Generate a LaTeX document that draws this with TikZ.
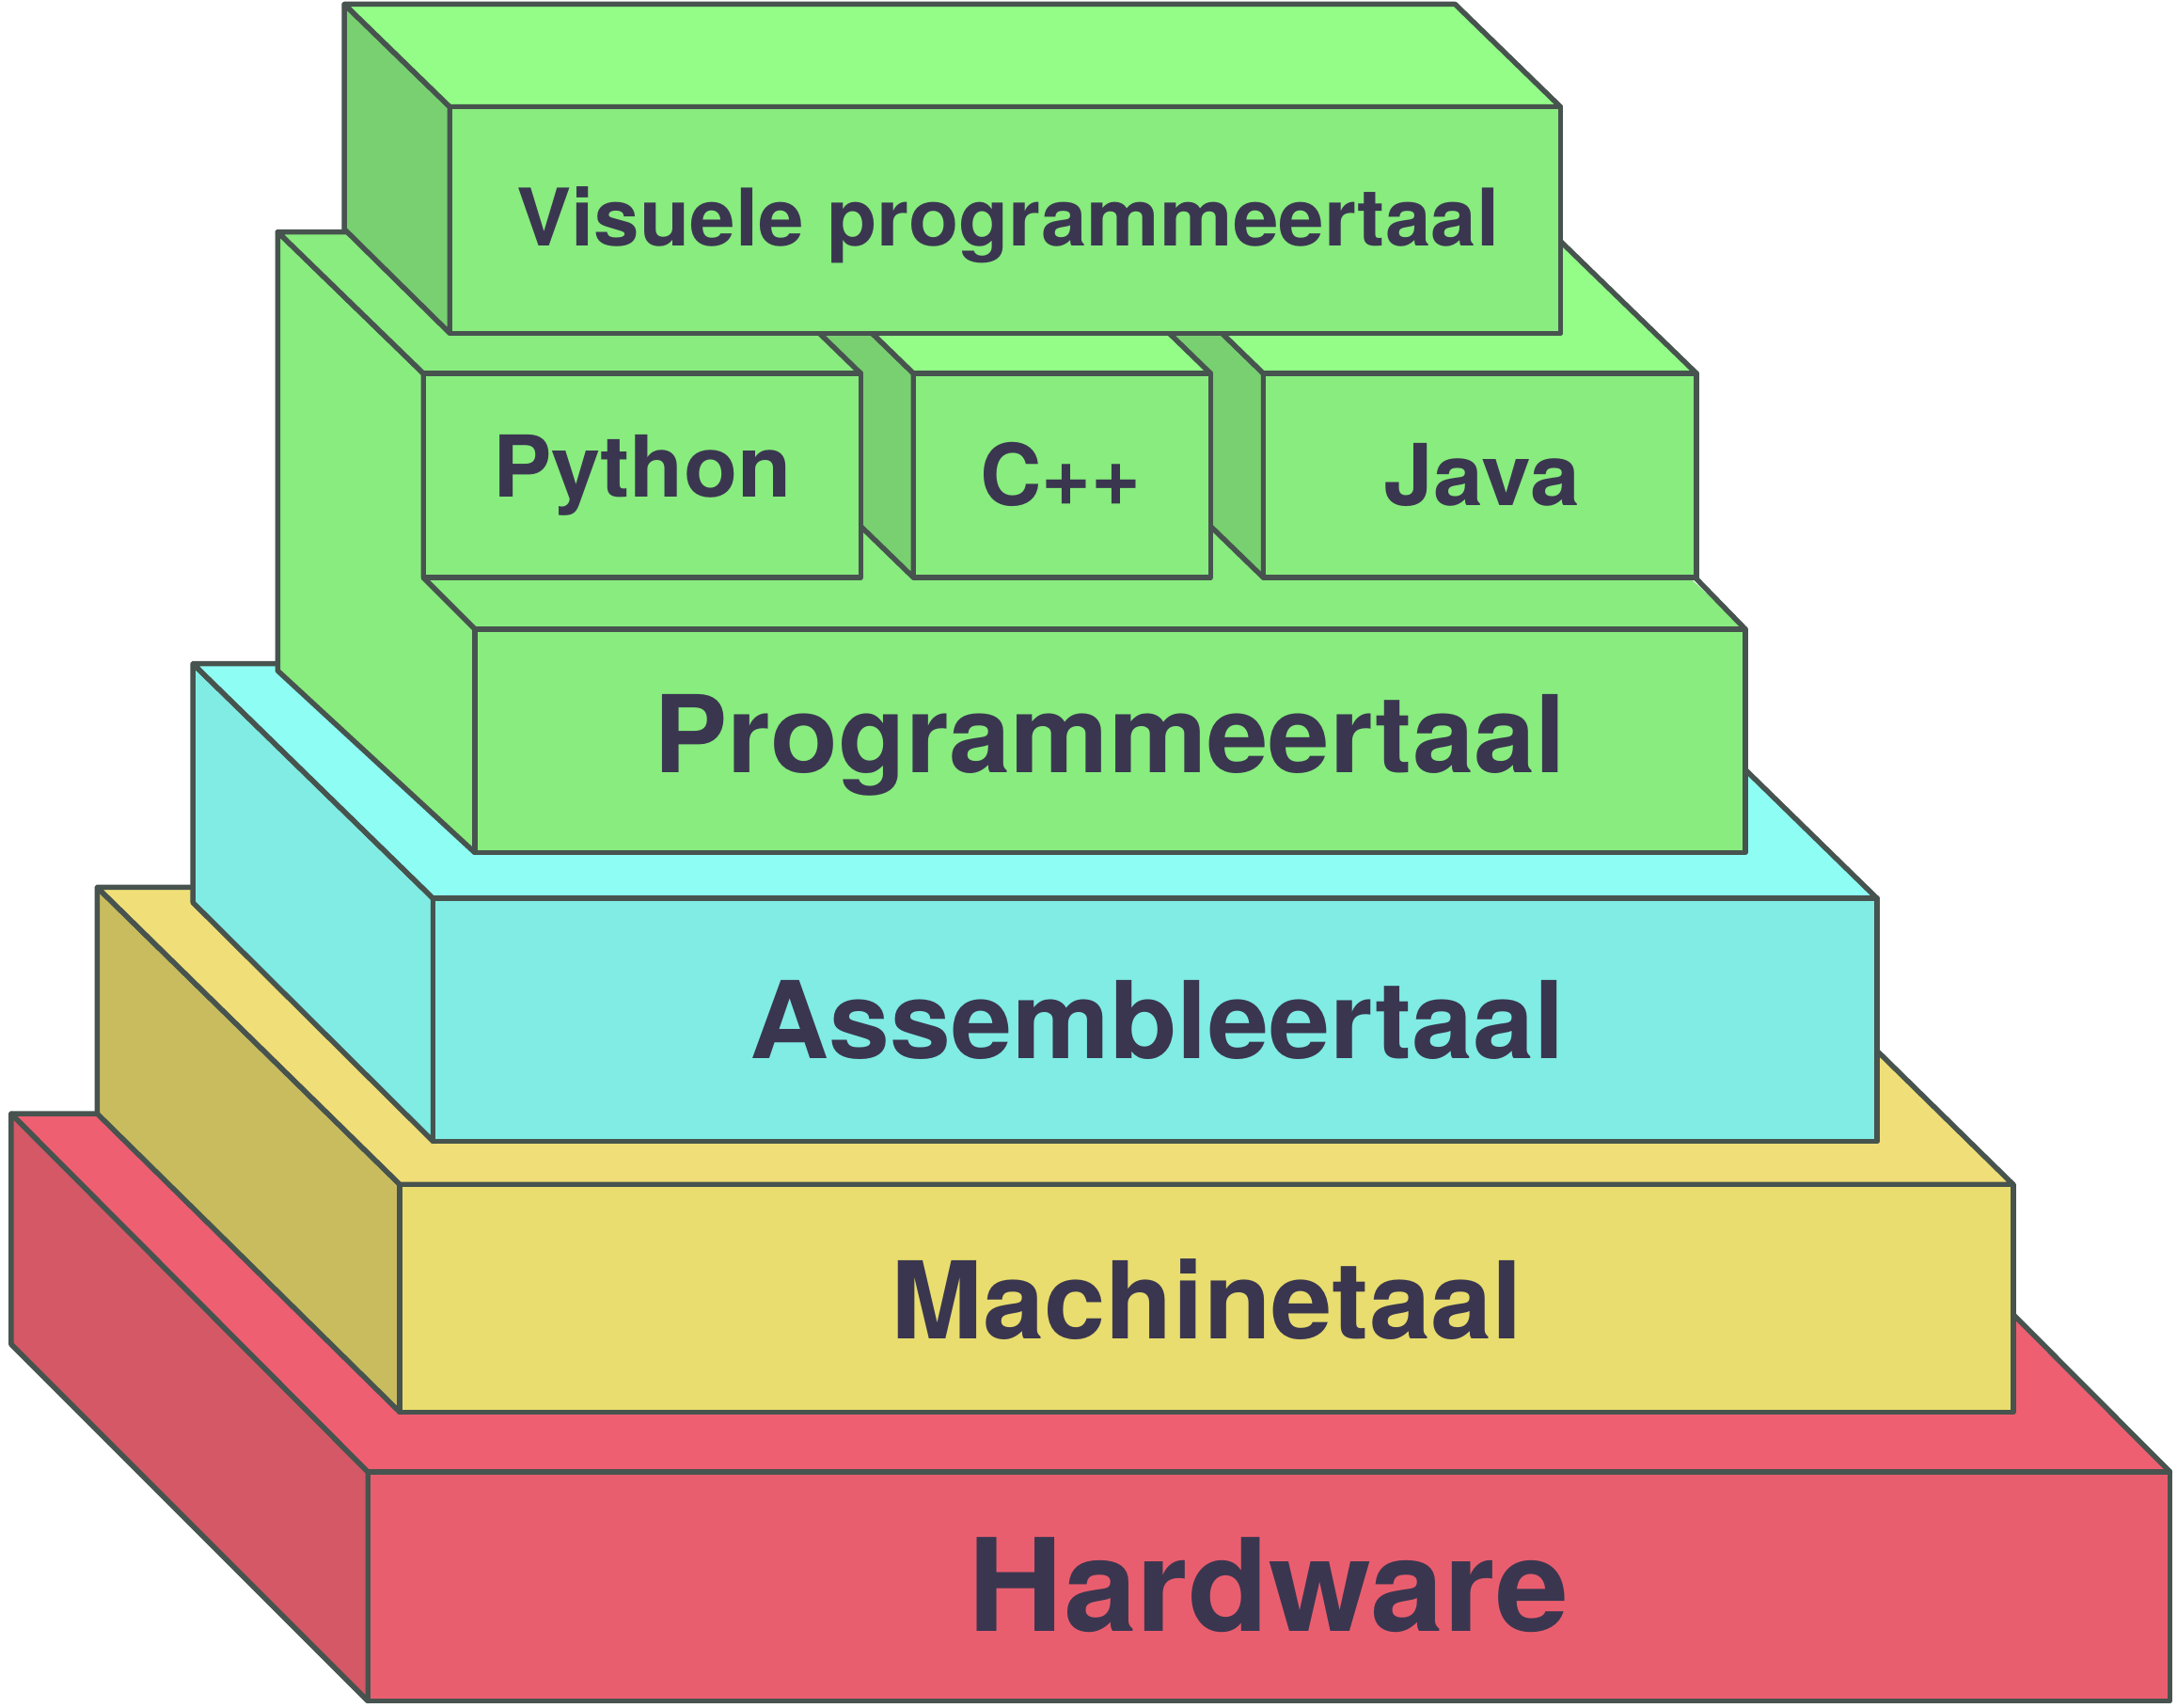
\documentclass[tikz,border=0pt]{standalone}
\usepackage{fontspec}
\setmainfont{TeX Gyre Heros}
\definecolor{ol}{HTML}{47534E}
\definecolor{txt}{HTML}{3A3650}
\definecolor{redF}{HTML}{E95E6E}
\definecolor{redL}{HTML}{D45866}
\definecolor{redT}{HTML}{EE5F71}
\definecolor{yelF}{HTML}{E8DD6E}
\definecolor{yelL}{HTML}{C9BC5E}
\definecolor{yelT}{HTML}{F0DF78}
\definecolor{cyaF}{HTML}{80ECE4}
\definecolor{cyaT}{HTML}{8EFEF4}
\definecolor{grnF}{HTML}{88EC7E}
\definecolor{grnT}{HTML}{93FD88}
\definecolor{grnL}{HTML}{78D070}
\newsavebox{\lblbox}
% #1 = font size, #2 = target width (picture units), #3 = text
\newcommand{\fitlbl}[3]{%
  \sbox{\lblbox}{\fontsize{#1}{#1}\selectfont\bfseries #3}%
  \pgfmathsetmacro{\lblfx}{#2*1.4764/\the\wd\lblbox}%
  \scalebox{\lblfx}[1]{\usebox{\lblbox}}}
\tikzset{
  face/.style={draw=ol, line width=5.5pt, line join=round},
  lbl/.style={text=txt, anchor=base, inner sep=0pt, outer sep=0pt},
}
\begin{document}
\begin{tikzpicture}[x=1.4764pt, y=-1.4764pt]
\useasboundingbox (0,0) rectangle (1568,1230);
% ---------- Hardware ----------
\filldraw[face, fill=redL] (8,802) -- (265,1060) -- (265,1225) -- (8,968) -- cycle;
\filldraw[face, fill=redT] (8,802) -- (265,1060) -- (1563,1060) -- (1306,802) -- cycle;
\filldraw[face, fill=redF] (265,1060) rectangle (1563,1225);
\node[lbl] (hw) at (913.8,1175) {\fitlbl{137pt}{432.5}{Hardware}};
% ---------- Machinetaal ----------
\filldraw[face, fill=yelL] (70,639) -- (288,853) -- (288,1017) -- (70,802) -- cycle;
\filldraw[face, fill=yelT] (70,639) -- (288,853) -- (1450,853) -- (1232,639) -- cycle;
\filldraw[face, fill=yelF] (288,853) rectangle (1450,1017);
\node[lbl] (mt) at (869.3,964) {\fitlbl{114pt}{455}{Machinetaal}};
% ---------- Assembleertaal ----------
\filldraw[face, fill=cyaF] (139,478) -- (312,647) -- (312,822) -- (139,650) -- cycle;
\filldraw[face, fill=cyaT] (139,478) -- (312,647) -- (1352,647) -- (1179,478) -- cycle;
\filldraw[face, fill=cyaF] (312,647) rectangle (1352,822);
\node[lbl] (at) at (833.5,762.5) {\fitlbl{114pt}{587}{Assembleertaal}};
% ---------- Programmeertaal base ----------
\fill[grnF] (200,322) -- (342,453) -- (1257,453) -- (1115,322) -- cycle;
\draw[face] (1257,453) -- (1221,416);
\filldraw[face, fill=grnF] (342,453) rectangle (1257,614);
\filldraw[face, fill=grnF] (200,167) -- (305,269) -- (305,416) -- (342,453) -- (342,614) -- (200,483) -- cycle;
\node[lbl] (pt) at (799.5,556.5) {\fitlbl{114pt}{657}{Programmeertaal}};
% ---------- Java ----------
\filldraw[face, fill=grnL] (910,269) -- (805,167) -- (805,314) -- (910,416) -- cycle;
\filldraw[face, fill=grnT] (910,269) -- (805,167) -- (1117,167) -- (1222,269) -- cycle;
\filldraw[face, fill=grnF] (910,269) rectangle (1222,416);
\node[lbl] (java) at (1067.5,364) {\fitlbl{90.7pt}{141}{Java}};
% ---------- C++ ----------
\filldraw[face, fill=grnL] (658,269) -- (553,167) -- (553,314) -- (658,416) -- cycle;
\filldraw[face, fill=grnT] (658,269) -- (553,167) -- (767,167) -- (872,269) -- cycle;
\filldraw[face, fill=grnF] (658,269) rectangle (872,416);
\node[lbl] (cpp) at (764,364) {\fitlbl{90.7pt}{116}{C++}};
% ---------- Python ----------
\filldraw[face, fill=grnF] (305,269) -- (200,167) -- (515,167) -- (620,269) -- cycle;
\filldraw[face, fill=grnF] (305,269) rectangle (620,416);
\node[lbl] (py) at (462.5,358) {\fitlbl{90.7pt}{215}{Python}};
% ---------- Visuele programmeertaal ----------
\filldraw[face, fill=grnL] (248,3) -- (324,77) -- (324,240) -- (248,165) -- cycle;
\filldraw[face, fill=grnT] (248,3) -- (324,77) -- (1124,77) -- (1048,3) -- cycle;
\filldraw[face, fill=grnF] (324,77) rectangle (1124,240);
\node[lbl] (vp) at (726,177) {\fitlbl{84.5pt}{708}{Visuele programmeertaal}};
\end{tikzpicture}
\end{document}
